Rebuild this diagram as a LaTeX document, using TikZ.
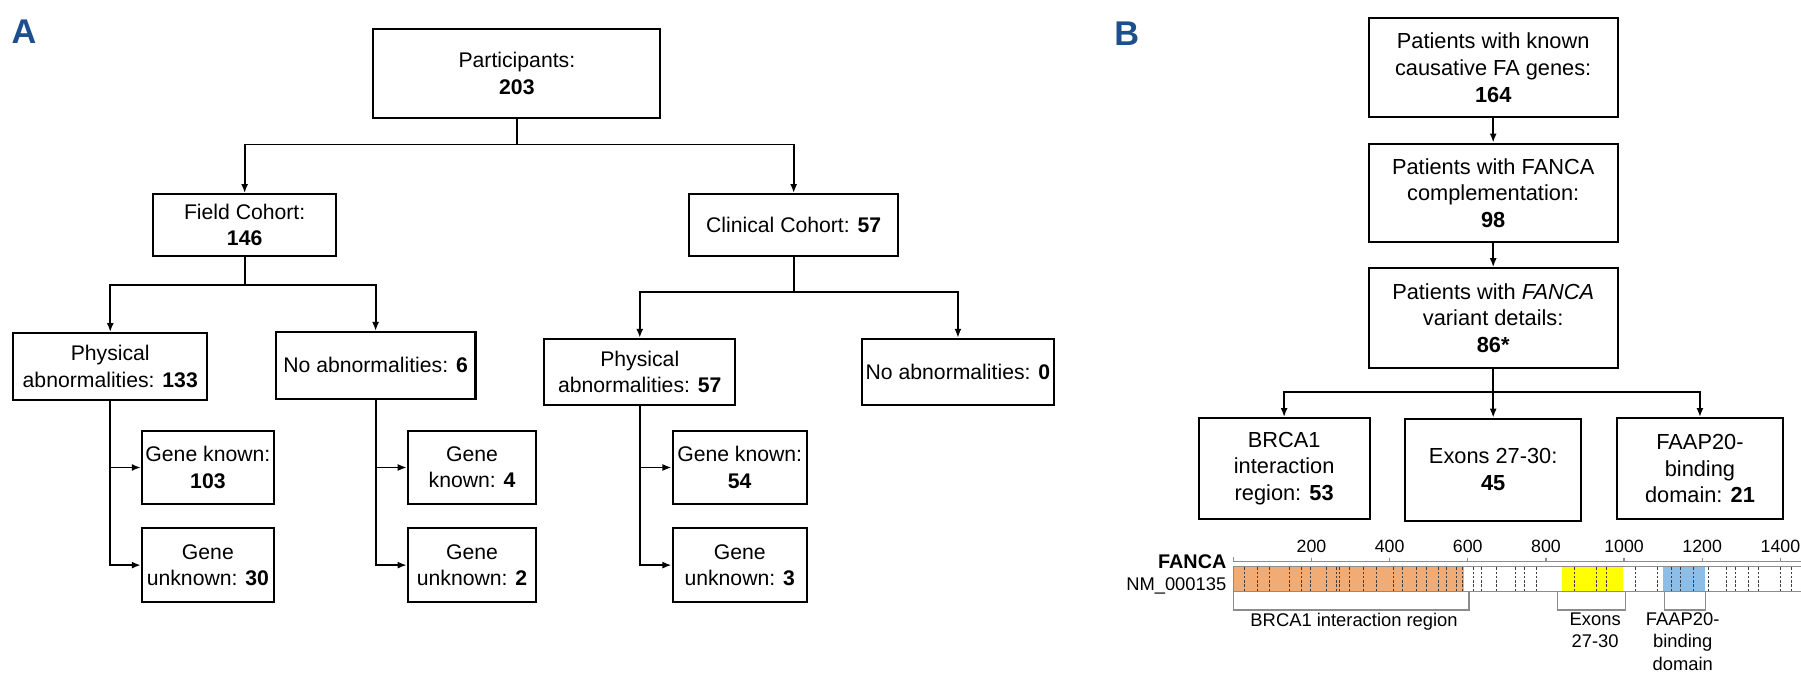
\documentclass[tikz,border=0pt]{standalone}
\usepackage{fontspec}
\setmainfont{Liberation Sans}
\usepackage{tikz}
\usetikzlibrary{arrows.meta}

\definecolor{panelblue}{RGB}{28,79,140}
\definecolor{brcaorange}{RGB}{241,172,118}
\definecolor{exonyellow}{RGB}{255,255,0}
\definecolor{faapblue}{RGB}{140,190,232}

\tikzset{
  box/.style={draw, line width=1pt, align=center, inner sep=0pt,
    font=\fontsize{10.5}{13}\selectfont},
  boxb/.style={box, font=\fontsize{10.8}{13.2}\selectfont},
  arr/.style={line width=0.9pt, -{Latex[length=4.5pt,width=3.5pt]}},
  panel/.style={text=panelblue, font=\fontsize{17}{17}\selectfont\bfseries},
  exonline/.style={black!75, line width=0.4pt, dash pattern=on 1.2pt off 0.9pt},
  greyline/.style={black!45, line width=0.6pt},
  ticklabel/.style={inner sep=0pt, font=\fontsize{8.8}{9}\selectfont},
  regionlabel/.style={inner sep=0pt, align=center, font=\fontsize{9.1}{11.1}\selectfont},
}

\begin{document}
\begin{tikzpicture}[x=0.02cm, y=-0.02cm]
            \useasboundingbox (0,0) rectangle (1568,586);

            % Panel letters
            \node[panel] (labA) at (21,28) {A};
            \node[panel] (labB) at (981,29) {B};

            % A: cohort tree
            \node[box, minimum width=5cm, minimum height=1.56cm] (part) at (450,64) {Participants:\\\textbf{203}};
            \node[box, minimum width=3.18cm, minimum height=1.08cm] (field) at (213,196) {Field Cohort:\\\textbf{146}};
            \node[box, minimum width=3.64cm, minimum height=1.08cm] (clin) at (691,196) {Clinical Cohort: \textbf{57}};
            \node[box, minimum width=3.38cm, minimum height=1.16cm] (phys1) at (96,319) {Physical\\abnormalities: \textbf{133}};
            \node[box, minimum width=3.48cm, minimum height=1.16cm] (noab1) at (327,318) {No abnormalities: \textbf{6}};
            \node[box, minimum width=3.32cm, minimum height=1.16cm] (phys2) at (557,324) {Physical\\abnormalities: \textbf{57}};
            \node[box, minimum width=3.34cm, minimum height=1.16cm] (noab2) at (834,324) {No abnormalities: \textbf{0}};
            \node[box, minimum width=2.3cm, minimum height=1.26cm] (gk1) at (181,407) {Gene known:\\\textbf{103}};
            \node[box, minimum width=2.3cm, minimum height=1.3cm] (gu1) at (181,492) {Gene\\unknown: \textbf{30}};
            \node[box, minimum width=2.24cm, minimum height=1.26cm] (gk2) at (411,407) {Gene\\known: \textbf{4}};
            \node[box, minimum width=2.24cm, minimum height=1.3cm] (gu2) at (411,492) {Gene\\unknown: \textbf{2}};
            \node[box, minimum width=2.34cm, minimum height=1.26cm] (gk3) at (644,407) {Gene known:\\\textbf{54}};
            \node[box, minimum width=2.34cm, minimum height=1.3cm] (gu3) at (644,492) {Gene\\unknown: \textbf{3}};

            \draw[arr] (part.south) -- ++(0,22) -| (field.north);
            \draw[arr] (part.south) -- ++(0,22) -| (clin.north);
            \draw[arr] (field.south) -- ++(0,24) -| (phys1.north);
            \draw[arr] (field.south) -- ++(0,24) -| (noab1.north);
            \draw[arr] (clin.south) -- ++(0,30) -| (phys2.north);
            \draw[arr] (clin.south) -- ++(0,30) -| (noab2.north);
            \foreach \p/\k/\u in {phys1/gk1/gu1, noab1/gk2/gu2, phys2/gk3/gu3} {
                \draw[arr] (\p.south) |- (\k.west);
                \draw[arr] (\p.south) |- (\u.west);
            }

            % B: FANCA tree
            \node[boxb, minimum width=4.34cm, minimum height=1.72cm] (known) at (1300,59) {Patients with known\\causative FA genes:\\\textbf{164}};
            \node[boxb, minimum width=4.34cm, minimum height=1.72cm] (compl) at (1300,168) {Patients with FANCA\\complementation:\\\textbf{98}};
            \node[boxb, minimum width=4.34cm, minimum height=1.74cm] (variant) at (1300,277) {Patients with \textit{FANCA}\\variant details:\\\textbf{86*}};
            \node[boxb, minimum width=2.98cm, minimum height=1.76cm] (brca) at (1118,408) {BRCA1\\interaction\\region: \textbf{53}};
            \node[boxb, minimum width=3.06cm, minimum height=1.78cm] (exons) at (1300,409) {Exons 27-30:\\\textbf{45}};
            \node[boxb, minimum width=2.88cm, minimum height=1.76cm] (faap) at (1480,408) {FAAP20-\\binding\\domain: \textbf{21}};

            \draw[arr] (known) -- (compl);
            \draw[arr] (compl) -- (variant);
            \draw[arr] (variant.south) -- ++(0,20) -| (brca.north);
            \draw[arr] (variant.south) -- (exons.north);
            \draw[arr] (variant.south) -- ++(0,20) -| (faap.north);

            % Protein map
            \node[anchor=east, inner sep=0pt, font=\fontsize{9.8}{10}\selectfont\bfseries] (fanca) at (1068,489) {FANCA};
            \node[anchor=east, inner sep=0pt, font=\fontsize{9.1}{10}\selectfont] (nm) at (1068,510) {NM\_000135};

            \begin{scope}[xshift=21.48cm, x=0.0068cm]
                \fill[brcaorange] (0,493.4) rectangle (591,515.2);
                \fill[exonyellow] (841,493.4) rectangle (997,515.2);
                \fill[faapblue] (1100,493.4) rectangle (1206,515.2);
                \foreach \e in {29,62,93,143,174,197,238,264,271,298,332,366,409,433,469,494,524,546,571,587,
                                614,635,674,721,746,776,872,930,955,1028,1085,1122,1143,1177,1216,1263,1284,1318,1344,1399,1429}
                    \draw[exonline] (\e,494) -- (\e,515);
                \draw[greyline] (1470,493.4) -- (0,493.4) -- (0,515.2) -- (1470,515.2);

                % Ruler
                \draw[greyline] (0,485) -- (0,489) -- (1470,489);
                \foreach \t in {200,400,...,1400} {
                    \draw[greyline] (\t,485.5) -- (\t,489);
                    \node[ticklabel] (t\t) at (\t,476) {\t};
                }

                % Regions
                \draw[greyline] (0,515.2) -- (0,531) -- (603,531) -- (603,515.2);
                \draw[greyline] (829,515.2) -- (829,531) -- (1003,531) -- (1003,515.2);
                \draw[greyline] (1103,515.2) -- (1103,531) -- (1209,531) -- (1209,515.2);
                \node[regionlabel] (brcareg) at (309,541) {BRCA1 interaction region};
                \node[regionlabel, anchor=north] (exreg) at (926,533) {Exons\\27-30};
                \node[regionlabel, anchor=north] (faapreg) at (1150,533) {FAAP20-\\binding\\domain};
            \end{scope}

        \end{tikzpicture}
\end{document}
